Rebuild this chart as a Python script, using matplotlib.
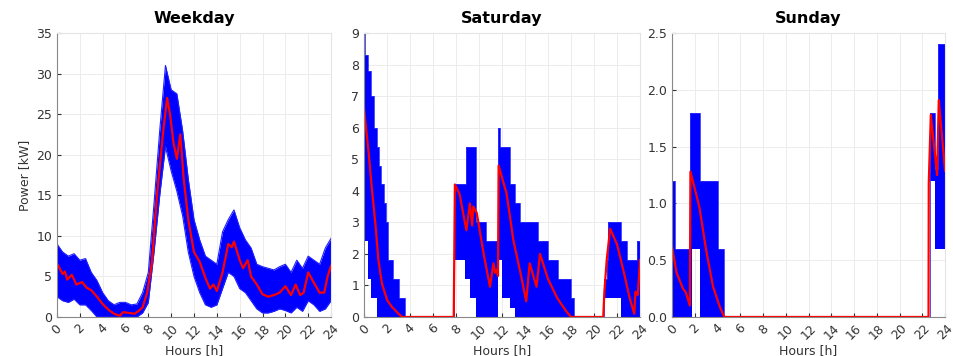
import matplotlib.pyplot as plt
import numpy as np

# ---- Weekday: envelope of the simulated profiles (half-hour grid) ----
wk_hours = np.arange(0, 24.5, 0.5)
wk_upper = [9.0, 8.0, 7.5, 7.8, 7.0, 7.2, 5.5, 4.5, 3.0, 2.0, 1.5, 1.8, 1.8, 1.5, 1.6, 3.0,
            5.5, 14.0, 23.0, 31.0, 28.0, 27.5, 23.0, 17.0, 12.0, 9.5, 7.5, 7.0, 6.5, 10.5,
            12.0, 13.2, 11.0, 9.5, 8.5, 6.5, 6.2, 6.0, 5.8, 6.2, 6.5, 5.5, 7.0, 6.0, 7.5,
            7.0, 6.5, 8.5, 9.7]
wk_lower = [2.5, 2.0, 1.8, 2.2, 1.5, 1.5, 0.8, 0.0, 0.0, 0.0, 0.0, 0.0, 0.0, 0.0, 0.0, 0.5,
            1.8, 8.0, 15.0, 21.0, 18.0, 15.5, 12.5, 8.0, 5.0, 3.0, 1.5, 1.2, 1.5, 3.5,
            5.5, 5.0, 3.5, 3.0, 2.0, 1.0, 0.5, 0.5, 0.7, 1.0, 0.8, 0.5, 1.2, 0.7, 2.0,
            1.5, 0.7, 1.0, 2.0]

# Weekday mean profile
wk_mean_h = [0, 0.5, 0.7, 0.9, 1.3, 1.7, 2.2, 2.6, 3.0, 3.5, 4.0, 4.5, 5.0, 5.5, 5.8, 6.3,
             6.8, 7.2, 7.5, 7.9, 8.3, 8.75, 9.0, 9.35, 9.65, 9.9, 10.2, 10.5, 10.8, 11.1,
             11.5, 12.0, 12.5, 13.0, 13.4, 13.7, 14.0, 14.5, 15.0, 15.3, 15.5, 16.0, 16.3,
             16.7, 17.0, 17.5, 18.0, 18.5, 19.0, 19.5, 20.0, 20.5, 20.9, 21.3, 21.6, 22.0,
             22.5, 23.0, 23.4, 23.7, 24.0]
wk_mean = [6.6, 5.3, 5.6, 4.6, 5.2, 4.0, 4.3, 3.6, 3.3, 2.5, 1.6, 0.9, 0.4, 0.15, 0.6, 0.5,
           0.4, 0.8, 1.2, 3.0, 6.5, 14.8, 18.5, 23.5, 27.0, 25.0, 21.5, 19.5, 22.5, 17.0,
           12.0, 8.0, 6.8, 4.8, 3.5, 4.0, 3.2, 5.5, 9.0, 8.6, 9.3, 7.0, 6.0,
           7.0, 5.0, 4.0, 2.8, 2.5, 2.7, 3.0, 3.8, 2.7, 4.0, 2.7, 3.0, 5.5,
           4.2, 3.0, 3.0, 5.0, 6.3]

# ---- Saturday: stepwise envelope ----
sat_edges = [0.0, 0.1, 0.35, 0.6, 0.9, 1.1, 1.3, 1.5, 1.7, 1.9, 2.1, 2.5, 3.0, 3.6,
             7.85, 8.8, 8.9, 9.2, 9.7, 10.6, 11.65, 11.8, 12.0, 12.7, 13.1, 13.6, 15.1,
             16.0, 16.9, 18.0, 18.3, 20.85, 21.1, 21.2, 22.35, 22.9, 23.7, 24.0]
sat_upper = [9.0, 8.3, 7.8, 7.0, 6.0, 5.4, 4.8, 4.2, 3.6, 3.0, 1.8, 1.2, 0.6, 0.0,
             4.2, 4.2, 5.4, 5.4, 3.0, 2.4, 6.0, 5.4, 5.4, 4.2, 3.6, 3.0, 2.4,
             1.8, 1.2, 0.6, 0.0, 1.2, 1.8, 3.0, 2.4, 1.8, 2.4, 2.4]
sat_lower = [3.0, 2.4, 1.2, 0.6, 0.6, 0.0, 0.0, 0.0, 0.0, 0.0, 0.0, 0.0, 0.0, 0.0,
             1.8, 1.2, 1.2, 0.6, 0.0, 0.0, 1.8, 1.8, 0.6, 0.3, 0.0, 0.0, 0.0,
             0.0, 0.0, 0.0, 0.0, 0.6, 0.6, 0.6, 0.0, 0.0, 0.0, 0.0]

sat_mean_h = [0, 0.4, 0.7, 1.0, 1.25, 1.55, 2.0, 2.4, 3.0, 3.3, 7.8, 7.9, 8.3, 8.9, 9.2,
              9.4, 9.5, 9.8, 10.4, 10.95, 11.25, 11.4, 11.55, 11.65, 11.7, 12.4, 13.0,
              13.6, 14.1, 14.4, 15.0, 15.3, 16.0, 16.8, 17.6, 18.0, 20.8, 20.9, 21.1,
              21.4, 22.0, 22.6, 23.1, 23.5, 23.6, 23.8, 24.0]
sat_mean = [6.6, 5.2, 4.0, 2.9, 1.8, 1.07, 0.54, 0.33, 0.1, 0.0, 0.0, 4.2, 3.9, 2.75, 3.6,
            2.9, 3.5, 3.3, 2.0, 0.96, 1.7, 1.4, 1.5, 1.3, 4.8, 3.9, 2.4,
            1.4, 0.5, 1.7, 0.96, 2.0, 1.2, 0.6, 0.17, 0.0, 0.0, 0.8, 1.8,
            2.8, 2.3, 1.4, 0.6, 0.1, 0.8, 0.7, 1.8]

# ---- Sunday: stepwise envelope ----
sun_edges = [0.0, 0.25, 1.6, 1.8, 2.5, 4.0, 4.6, 22.65, 23.1, 23.4, 24.0]
sun_upper = [1.2, 0.6, 1.8, 1.8, 1.2, 0.6, 0.0, 1.8, 1.3, 2.4, 2.4]
sun_lower = [0.0, 0.0, 0.0, 0.6, 0.0, 0.0, 0.0, 1.2, 0.6, 0.6, 0.6]

sun_mean_h = [0, 0.4, 0.96, 1.2, 1.57, 1.62, 2.1, 2.4, 3.0, 3.6, 4.2, 4.6, 22.55, 22.57,
              22.75, 23.3, 23.45, 24.0]
sun_mean = [0.62, 0.39, 0.25, 0.22, 0.1, 1.28, 1.09, 0.97, 0.59, 0.27, 0.09, 0.0, 0.0, 1.18,
            1.78, 1.25, 1.91, 1.29]

hour_ticks = np.arange(0, 25, 2)


def style_axes(ax, title, ymax, ystep, ylabel=None):
    """
    Formato comun a los tres paneles.
    """
    ax.set_xlim(0, 24)
    ax.set_ylim(0, ymax)
    ax.set_xticks(hour_ticks)
    ax.set_yticks(np.arange(0, ymax + ystep / 2, ystep))
    ax.set_xticklabels([str(h) for h in hour_ticks], rotation=45, ha='center')
    ax.tick_params(direction='in', labelsize=9, colors='#333333', length=3)
    ax.grid(True, color='#ececec', linewidth=0.7)
    ax.set_axisbelow(True)
    for side in ('top', 'right'):
        ax.spines[side].set_color('#e4e4e4')
    for side in ('left', 'bottom'):
        ax.spines[side].set_color('#888888')
    ax.set_title(title, fontsize=11.5, fontweight='bold', pad=7)
    ax.set_xlabel('Hours [h]', fontsize=9, color='#333333', labelpad=1)
    if ylabel:
        ax.set_ylabel(ylabel, fontsize=9, color='#333333', labelpad=4)


fig = plt.figure(figsize=(9.54, 3.56), dpi=100)
ax1 = fig.add_axes([0.0597, 0.1096, 0.2873, 0.7977])
ax2 = fig.add_axes([0.3816, 0.1096, 0.2893, 0.7977])
ax3 = fig.add_axes([0.7044, 0.1096, 0.2862, 0.7977])

# Weekday
ax1.fill_between(wk_hours, wk_lower, wk_upper, color='#0000ff', linewidth=0)
ax1.plot(wk_hours, wk_upper, color='#2020ff', linewidth=0.8)
ax1.plot(wk_hours, wk_lower, color='#2020ff', linewidth=0.8)
ax1.plot(wk_mean_h, wk_mean, color='#ff0000', linewidth=1.6)
style_axes(ax1, 'Weekday', 35, 5, 'Power [kW]')

# Saturday
ax2.fill_between(sat_edges, sat_lower, sat_upper, step='post', color='#0000ff', linewidth=0)
ax2.step(sat_edges, sat_upper, where='post', color='#3030ff', linewidth=0.6)
ax2.plot(sat_mean_h, sat_mean, color='#ff0000', linewidth=1.6)
style_axes(ax2, 'Saturday', 9, 1)

# Sunday
ax3.fill_between(sun_edges, sun_lower, sun_upper, step='post', color='#0000ff', linewidth=0)
ax3.step(sun_edges, sun_upper, where='post', color='#3030ff', linewidth=0.6)
ax3.plot(sun_mean_h, sun_mean, color='#ff0000', linewidth=1.6)
style_axes(ax3, 'Sunday', 2.5, 0.5)

fig.savefig('out.png', dpi=100)
